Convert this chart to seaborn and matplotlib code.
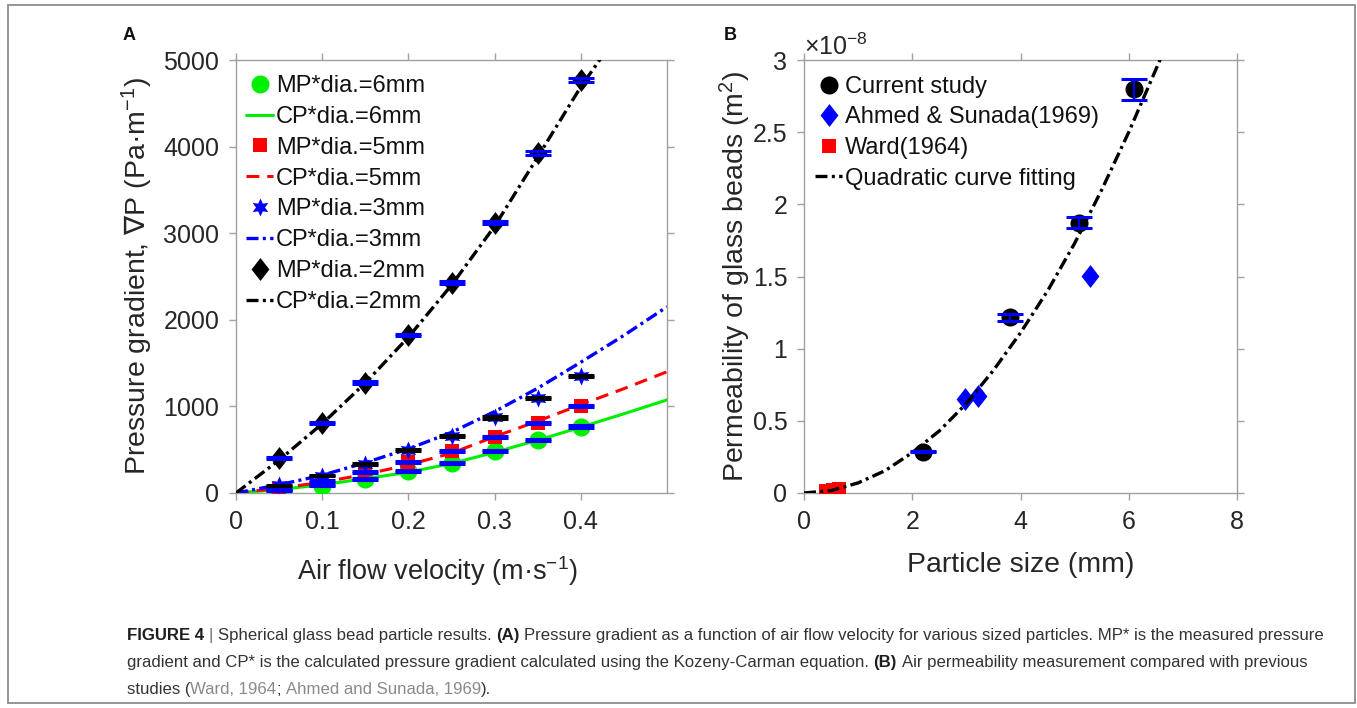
import numpy as np
import pandas as pd
import matplotlib
matplotlib.use("Agg")
import matplotlib.pyplot as plt
from matplotlib.lines import Line2D
from matplotlib.markers import MarkerStyle
from matplotlib.patches import Rectangle
from matplotlib import font_manager
import seaborn as sns

# ---------------- Panel A data ----------------
velocity = [0.05, 0.10, 0.15, 0.20, 0.25, 0.30, 0.35, 0.40]
mp_6mm = [25, 85, 160, 255, 350, 480, 610, 766]
mp_5mm = [45, 140, 240, 360, 490, 645, 810, 1005]
mp_3mm = [90, 200, 335, 497, 660, 872, 1095, 1348]
mp_2mm = [400, 808, 1274, 1824, 2428, 3121, 3926, 4769]
err_6mm = [6, 8, 8, 10, 10, 12, 12, 14]
err_5mm = [6, 8, 10, 10, 12, 12, 14, 14]
err_3mm = [6, 8, 8, 10, 10, 12, 12, 14]
err_2mm = [10, 12, 14, 14, 16, 16, 18, 18]

cp_velocity = [0.00, 0.05, 0.10, 0.15, 0.20, 0.25, 0.30, 0.35, 0.40, 0.45, 0.50]
cp_6mm = [0, 40, 95, 165, 240, 340, 470, 610, 760, 915, 1075]
cp_5mm = [0, 55, 125, 215, 325, 460, 650, 830, 1020, 1205, 1400]
cp_3mm = [0, 95, 205, 350, 510, 700, 940, 1210, 1510, 1820, 2150]
cp_2mm = [0, 380, 800, 1270, 1800, 2400, 3080, 3880, 4690, 5400, 6150]

labels_A = ["MP*dia.=6mm", "CP*dia.=6mm", "MP*dia.=5mm", "CP*dia.=5mm",
            "MP*dia.=3mm", "CP*dia.=3mm", "MP*dia.=2mm", "CP*dia.=2mm"]

# ---------------- Panel B data (x 1e-8 m^2) ----------------
size_current = [2.20, 3.80, 5.09, 6.09]
perm_current = [0.286, 1.217, 1.873, 2.797]
err_current = [0.004, 0.023, 0.037, 0.072]
size_ahmed = [2.98, 3.22, 5.29]
perm_ahmed = [0.649, 0.672, 1.504]
size_ward = [0.41, 0.53, 0.65]
perm_ward = [0.012, 0.020, 0.030]
fit_size = [0.0, 0.5, 1.0, 1.5, 2.0, 2.5, 3.0, 3.5, 4.0, 4.5, 5.0, 5.5, 6.0, 6.6]
fit_perm = [0.0, 0.017, 0.07, 0.155, 0.28, 0.43, 0.62, 0.85, 1.11, 1.40, 1.73, 2.10, 2.50, 3.02]

labels_B = ["Current study", "Ahmed & Sunada(1969)", "Ward(1964)", "Quadratic curve fitting"]

# ---------------- style ----------------
sns.set_theme(style="white")
FONT = ["Liberation Sans", "DejaVu Sans"]
plt.rcParams["font.family"] = FONT
plt.rcParams["mathtext.fontset"] = "custom"
plt.rcParams["mathtext.rm"] = "Liberation Sans"
plt.rcParams["mathtext.it"] = "Liberation Sans:italic"
plt.rcParams["mathtext.bf"] = "Liberation Sans:bold"
plt.rcParams["mathtext.sf"] = "DejaVu Sans"

GREEN = "#00ee00"
RED = "#ff0000"
BLUE = "#0000ff"
BLACK = "#000000"
SPINE = "#a0a0a0"
TXT = "#262626"

DASHDOT = (0, (3.6, 1.3, 0.9, 1.3))
DASHED = (0, (4.2, 2.6))
STAR = MarkerStyle((6, 1, 0))
DIAMOND = MarkerStyle([(0, 1), (0.78, 0), (0, -1), (-0.78, 0), (0, 1)])

W, H = 1357, 708
fig = plt.figure(figsize=(W / 100, H / 100), dpi=100)
fig.patch.set_facecolor("white")


def px_axes(l, t, r, b):
    return fig.add_axes([l / W, 1 - b / H, (r - l) / W, (b - t) / H])


axA = px_axes(236, 60, 667, 493)
axB = px_axes(804, 60, 1237, 493)


def style_axes(ax):
    for sp in ax.spines.values():
        sp.set_visible(True)
        sp.set_color(SPINE)
        sp.set_linewidth(1.0)
    ax.tick_params(direction="out", length=5, width=1, color=SPINE,
                   labelsize=18, labelcolor=TXT, pad=7,
                   top=True, right=True, bottom=True, left=True,
                   labeltop=False, labelright=False)
    ax.set_facecolor("white")
    ax.grid(False)


# ---------------- Panel A ----------------
def mp_series(ax, x, y, err, marker, ms, color, ecolor):
    sns.scatterplot(x=x, y=y, ax=ax, marker=marker, s=ms ** 2, color=color,
                    edgecolor=color, linewidth=0, zorder=3, legend=False)
    ax.errorbar(x, y, yerr=err, fmt="none", ecolor=ecolor, elinewidth=1.5,
                capsize=9.5, capthick=2.2, zorder=4)


def cp_series(ax, x, y, color, ls, lw):
    sns.lineplot(x=x, y=y, ax=ax, color=color, linewidth=lw, linestyle=ls,
                 zorder=3.5, legend=False, errorbar=None, sort=False)


mp_series(axA, velocity, mp_6mm, err_6mm, MarkerStyle("o"), 13, GREEN, BLUE)
cp_series(axA, cp_velocity, cp_6mm, GREEN, "-", 2.2)
mp_series(axA, velocity, mp_5mm, err_5mm, MarkerStyle("s"), 10.5, RED, BLUE)
cp_series(axA, cp_velocity, cp_5mm, RED, DASHED, 2.2)
mp_series(axA, velocity, mp_3mm, err_3mm, STAR, 13, BLUE, BLACK)
cp_series(axA, cp_velocity, cp_3mm, BLUE, DASHDOT, 2.4)
mp_series(axA, velocity, mp_2mm, err_2mm, DIAMOND, 16.5, BLACK, BLUE)
cp_series(axA, cp_velocity, cp_2mm, BLACK, DASHDOT, 2.4)

axA.set_xlim(0, 0.5)
axA.set_ylim(0, 5000)
axA.set_xticks([0, 0.1, 0.2, 0.3, 0.4])
axA.set_xticklabels(["0", "0.1", "0.2", "0.3", "0.4"])
axA.set_yticks([0, 1000, 2000, 3000, 4000, 5000])
axA.set_yticklabels(["0", "1000", "2000", "3000", "4000", "5000"])
style_axes(axA)
axA.set_xlabel("Air flow velocity (m\u00b7s$^{-1}$)", fontsize=19.5, color=TXT)
axA.xaxis.set_label_coords(0.468, -0.142)
axA.set_ylabel("Pressure gradient, $\\mathsf{\\nabla}$P (Pa\u00b7m$^{-1}$)", fontsize=20.5, color=TXT)
axA.yaxis.set_label_coords(-0.188, 0.5)

handles_A = [
    Line2D([], [], ls="none", marker="o", ms=13, mfc=GREEN, mec=GREEN, mew=0),
    Line2D([], [], color=GREEN, lw=2.2),
    Line2D([], [], ls="none", marker="s", ms=10.5, mfc=RED, mec=RED, mew=0),
    Line2D([], [], color=RED, lw=2.2, ls=DASHED),
    Line2D([], [], ls="none", marker=STAR, ms=13, mfc=BLUE, mec=BLUE, mew=0),
    Line2D([], [], color=BLUE, lw=2.4, ls=DASHDOT),
    Line2D([], [], ls="none", marker=DIAMOND, ms=16.5, mfc=BLACK, mec=BLACK, mew=0),
    Line2D([], [], color=BLACK, lw=2.4, ls=DASHDOT),
]
legA = axA.legend(handles_A, labels_A, loc="upper left",
                  bbox_to_anchor=(10 / 431, 1 - 15 / 433), frameon=False,
                  fontsize=17, handlelength=1.15, handletextpad=0.12,
                  labelspacing=0.375, borderpad=0, borderaxespad=0)
for t in legA.get_texts():
    t.set_color("#111111")

# ---------------- Panel B ----------------
sns.scatterplot(x=size_current, y=perm_current, ax=axB, marker=MarkerStyle("o"),
                s=13 ** 2, color=BLACK, edgecolor=BLACK, linewidth=0, zorder=3, legend=False)
axB.errorbar(size_current, perm_current, yerr=err_current, fmt="none", ecolor=BLUE,
             elinewidth=1.6, capsize=9.5, capthick=2.2, zorder=4)
sns.scatterplot(x=size_ahmed, y=perm_ahmed, ax=axB, marker=DIAMOND, s=16.5 ** 2,
                color=BLUE, edgecolor=BLUE, linewidth=0, zorder=3, legend=False)
sns.scatterplot(x=size_ward, y=perm_ward, ax=axB, marker=MarkerStyle("s"), s=10 ** 2,
                color=RED, edgecolor=RED, linewidth=0, zorder=3, legend=False)
sns.lineplot(x=fit_size, y=fit_perm, ax=axB, color=BLACK, linewidth=2.4,
             linestyle=DASHDOT, zorder=3.5, legend=False, errorbar=None, sort=False)

axB.set_xlim(0, 8)
axB.set_ylim(0, 3)
axB.set_xticks([0, 2, 4, 6, 8])
axB.set_xticklabels(["0", "2", "4", "6", "8"])
axB.set_yticks([0, 0.5, 1, 1.5, 2, 2.5, 3])
axB.set_yticklabels(["0", "0.5", "1", "1.5", "2", "2.5", "3"])
style_axes(axB)
axB.set_xlabel("Particle size (mm)", fontsize=20.5, color=TXT, labelpad=13)
axB.set_ylabel("Permeability of glass beads (m$^{2}$)", fontsize=20.5, color=TXT)
axB.yaxis.set_label_coords(-0.118, 0.5)
axB.text(0.0, 1.0005, "\u00d710$^{-8}$", transform=axB.transAxes, ha="left",
         va="bottom", fontsize=18, color=TXT)

handles_B = [
    Line2D([], [], ls="none", marker="o", ms=13, mfc=BLACK, mec=BLACK, mew=0),
    Line2D([], [], ls="none", marker=DIAMOND, ms=16.5, mfc=BLUE, mec=BLUE, mew=0),
    Line2D([], [], ls="none", marker="s", ms=10, mfc=RED, mec=RED, mew=0),
    Line2D([], [], color=BLACK, lw=2.4, ls=DASHDOT),
]
legB = axB.legend(handles_B, labels_B, loc="upper left",
                  bbox_to_anchor=(11 / 433, 1 - 16 / 433), frameon=False,
                  fontsize=17, handlelength=1.15, handletextpad=0.12,
                  labelspacing=0.36, borderpad=0, borderaxespad=0)
for t in legB.get_texts():
    t.set_color("#111111")

# ---------------- panel letters ----------------
fig.text(129 / W, 1 - 35 / H, "A", ha="center", va="center", fontsize=13,
         fontweight="bold", color="#111111")
fig.text(730 / W, 1 - 35 / H, "B", ha="center", va="center", fontsize=13,
         fontweight="bold", color="#111111")

# ---------------- frame ----------------
fig.patches.append(Rectangle((8 / W, 1 - 703 / H), (1355 - 8) / W, (703 - 5) / H,
                             transform=fig.transFigure, fill=False,
                             edgecolor="#8c8c8c", linewidth=1.3))

# ---------------- caption ----------------
def pick_font():
    for name in ["Liberation Sans Narrow", "Liberation Sans"]:
        try:
            font_manager.findfont(name, fallback_to_default=False)
            return name
        except Exception:
            continue
    return "DejaVu Sans"


CAP_FONT = pick_font()
fig.canvas.draw()
renderer = fig.canvas.get_renderer()

CAP_STYLES = {
    "b": dict(fontweight="bold", color="#1e1e1e"),
    "n": dict(fontweight="normal", color="#333333"),
    "g": dict(fontweight="normal", color="#6e6e6e"),
    "l": dict(fontweight="normal", color="#8a8a8a"),
}

caption = [
    [("FIGURE 4", "b"), (" | ", "g"), ("Spherical glass bead particle results. ", "n"),
     ("(A)", "b"),
     (" Pressure gradient as a function of air flow velocity for various sized particles. MP* is the measured pressure", "n")],
    [("gradient and CP* is the calculated pressure gradient calculated using the Kozeny-Carman equation. ", "n"),
     ("(B)", "b"), (" Air permeability measurement compared with previous", "n")],
    [("studies (", "n"), ("Ward, 1964", "l"), ("; ", "n"), ("Ahmed and Sunada, 1969", "l"), (").", "n")],
]


def measure(s, size, st):
    t = fig.text(0, 0, s, fontsize=size, family=CAP_FONT, **CAP_STYLES[st])
    w = t.get_window_extent(renderer).width
    t.remove()
    return w


def seg_width(s, size, st, sp):
    lead = len(s) - len(s.lstrip(" "))
    trail = len(s) - len(s.rstrip(" "))
    core = s.strip(" ")
    return (lead + trail) * sp + (measure(core, size, st) if core else 0.0)


base = 12.0
sp0 = measure("a a", base, "n") - measure("aa", base, "n")
w0 = sum(seg_width(s, base, st, sp0) for s, st in caption[0])
cap_size = base * (1198.0 / w0)
sp = measure("a a", cap_size, "n") - measure("aa", cap_size, "n")

baselines = [640, 667, 694]
for line, yb in zip(caption, baselines):
    x = 127.0
    for s, st in line:
        lead = len(s) - len(s.lstrip(" "))
        trail = len(s) - len(s.rstrip(" "))
        core = s.strip(" ")
        x += lead * sp
        if core:
            fig.text(x / W, 1 - yb / H, core, fontsize=cap_size, family=CAP_FONT,
                     va="baseline", ha="left", **CAP_STYLES[st])
            x += measure(core, cap_size, st)
        x += trail * sp

fig.savefig("out.png", dpi=100, facecolor="white")
